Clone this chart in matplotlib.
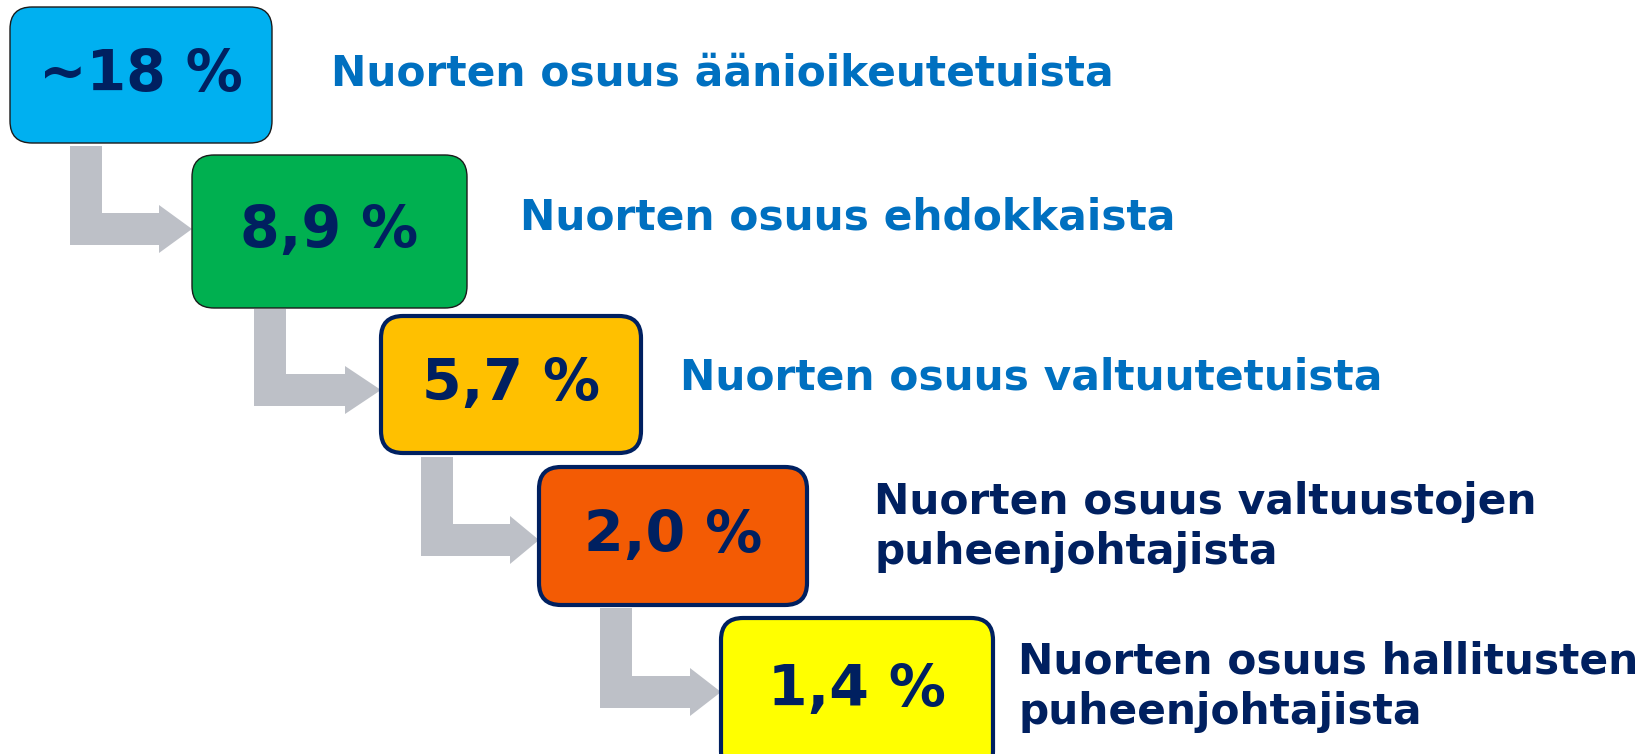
import matplotlib.pyplot as plt
from matplotlib.patches import FancyBboxPatch, Polygon

# values shown in the boxes and their captions
values = ["~18 %", "8,9 %", "5,7 %", "2,0 %", "1,4 %"]
captions = [
    "Nuorten osuus äänioikeutetuista",
    "Nuorten osuus ehdokkaista",
    "Nuorten osuus valtuutetuista",
    "Nuorten osuus valtuustojen\npuheenjohtajista",
    "Nuorten osuus hallitusten\npuheenjohtajista",
]
box_colors = ["#00B0F0", "#00B050", "#FFC000", "#F35B04", "#FFFF00"]
caption_colors = ["#0070C0", "#0070C0", "#0070C0", "#002060", "#002060"]

# layout (pixels, y down)
boxes = [(10, 7, 262, 136), (192, 155, 275, 153), (381, 316, 260, 137),
         (539, 467, 268, 138), (721, 618, 272, 155)]
edge_w = [1.0, 1.0, 3.0, 3.0, 3.0]
edge_c = ["#1a1a1a", "#1a1a1a", "#002060", "#002060", "#002060"]
caption_xy = [(331, 74), (520, 218), (680, 378), (874, 527), (1018, 687)]
# arrows: shaft left x, top y, bar bottom y, head start x
arrows = [(70, 146, 245, 159), (254, 309, 406, 345),
          (421, 457, 556, 510), (600, 608, 708, 690)]

W, H = 1641, 754
fig = plt.figure(figsize=(W / 100, H / 100), dpi=100)
ax = fig.add_axes([0, 0, 1, 1])
ax.set_xlim(0, W)
ax.set_ylim(H, 0)
ax.axis("off")

grey = "#BDC0C7"
sw = 32  # shaft width
for i, (x0, y0, yb, xh) in enumerate(arrows):
    tip = boxes[i + 1][0]
    yt = yb - sw
    yc = (yt + yb) / 2
    pts = [(x0, y0), (x0 + sw, y0), (x0 + sw, yt), (xh, yt), (xh, yc - 24),
           (tip, yc), (xh, yc + 24), (xh, yb), (x0, yb)]
    ax.add_patch(Polygon(pts, closed=True, facecolor=grey, edgecolor="none"))

for i, (x, y, w, h) in enumerate(boxes):
    ax.add_patch(FancyBboxPatch((x, y), w, h,
                                boxstyle="round,pad=0,rounding_size=22",
                                facecolor=box_colors[i], edgecolor=edge_c[i],
                                linewidth=edge_w[i], zorder=3))
    cy = y + 73 if i == 4 else y + h / 2
    ax.text(x + w / 2, cy, values[i], ha="center", va="center",
            fontsize=41, fontweight="bold", color="#002060", zorder=4,
            family="DejaVu Sans")

for i, (cx, cy) in enumerate(caption_xy):
    ax.text(cx, cy, captions[i], ha="left", va="center", fontsize=30.5,
            fontweight="bold", color=caption_colors[i], linespacing=1.25,
            family="DejaVu Sans")

fig.savefig("out.png", dpi=100)
